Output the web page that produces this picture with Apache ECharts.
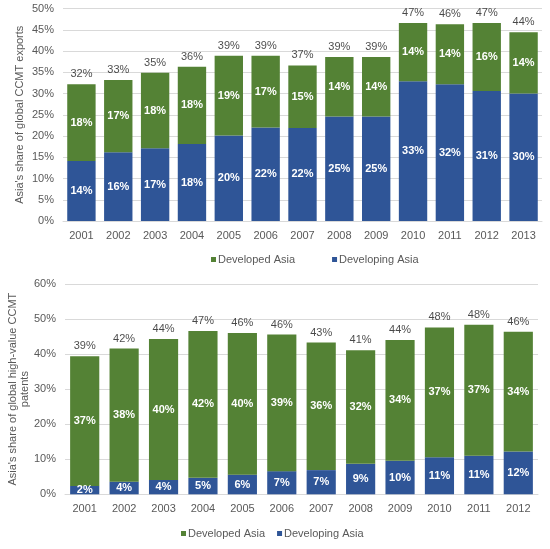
<!DOCTYPE html>
<html>
<head>
<meta charset="utf-8">
<script src="https://cdn.jsdelivr.net/npm/echarts@6/dist/echarts.min.js"></script>
<style>
html,body{margin:0;padding:0;background:#fff;}
#c{width:550px;height:549px;}
</style>
</head>
<body>
<div id="c"></div>
<script>
// Top chart: Asia's share of global CCMT exports (%)
const exportYears = ['2001','2002','2003','2004','2005','2006','2007','2008','2009','2010','2011','2012','2013'];
const exportDeveloping = [14.1,16.2,17.1,18.1,20.1,22.0,21.9,24.6,24.6,32.9,32.2,30.6,30.0];
const exportDeveloped  = [18.1,17.0,17.8,18.2,18.8,16.9,14.7,14.0,14.0,13.7,14.1,16.0,14.4];
const exportTicks = [0,5,10,15,20,25,30,35,40,45,50];

// Bottom chart: Asia's share of global high-value CCMT patents (%)
const patentYears = ['2001','2002','2003','2004','2005','2006','2007','2008','2009','2010','2011','2012'];
const patentDeveloping = [2.4,3.6,4.1,4.7,5.6,6.6,6.9,8.7,9.6,10.6,11.0,12.2];
const patentDeveloped  = [37.0,38.0,40.2,41.9,40.4,39.0,36.4,32.4,34.4,37.0,37.4,34.2];
const patentTicks = [0,10,20,30,40,50,60];

const exportTotal = exportDeveloping.map((v,i)=>+(v+exportDeveloped[i]).toFixed(1));
const patentTotal = patentDeveloping.map((v,i)=>+(v+patentDeveloped[i]).toFixed(1));

const GREEN = '#548235', BLUE = '#2F5597';
const FONT = '"Liberation Sans", Arial, sans-serif';
const pct = p => Math.round(p.value) + '%';

function yAx(idx, ticks, name, gap){
  return {
    type:'value', gridIndex:idx, min:ticks[0], max:ticks[ticks.length-1],
    interval: ticks[1]-ticks[0],
    axisLine:{show:false}, axisTick:{show:false},
    axisLabel:{formatter:'{value}%', color:'#595959', fontSize:11, fontFamily:FONT, margin:9},
    splitLine:{lineStyle:{color:'#d9d9d9', width:1}},
    name:name, nameLocation:'middle', nameRotate:90, nameGap:gap, nameMoveOverlap:false,
    nameTextStyle:{color:'#595959', fontSize:11, fontFamily:FONT, lineHeight:12, align:'center'}
  };
}
function xAx(idx, cats){
  return {
    type:'category', gridIndex:idx, data:cats,
    axisLine:{lineStyle:{color:'#d9d9d9'}}, axisTick:{show:false},
    axisLabel:{color:'#595959', fontSize:11, fontFamily:FONT, margin:9}
  };
}
function barSeries(name, idx, data, color, stack, gap){
  return {
    name:name, type:'bar', stack:stack, xAxisIndex:idx, yAxisIndex:idx,
    data:data, barCategoryGap:gap,
    itemStyle:{color:color},
    label:{show:true, position:'inside', formatter:pct, color:'#fff', fontWeight:'bold', fontSize:11, fontFamily:FONT},
    emphasis:{disabled:true}, animation:false
  };
}
function totalSeries(idx, data){
  return {
    name:'Total', type:'scatter', xAxisIndex:idx, yAxisIndex:idx, data:data,
    symbolSize:1, itemStyle:{color:'rgba(0,0,0,0)'},
    label:{show:true, position:'top', distance:4, formatter:pct, color:'#1a1a1a', fontSize:11, fontFamily:FONT},
    emphasis:{disabled:true}, animation:false, z:5
  };
}
const legendText = {color:'#595959', fontSize:11, fontFamily:FONT, padding:[0,0,0,-3]};

const chart = echarts.init(document.getElementById('c'), null, {renderer:'canvas'});
chart.setOption({
  animation:false,
  textStyle:{fontFamily:FONT},
  grid:[
    {left:63, right:8, top:8.5, height:212.5, outerBoundsMode:'none', containLabel:false},
    {left:65, right:12, top:284, height:210.3, outerBoundsMode:'none', containLabel:false}
  ],
  xAxis:[xAx(0, exportYears), xAx(1, patentYears)],
  yAxis:[
    yAx(0, exportTicks, "Asia's share of global CCMT exports", 37),
    yAx(1, patentTicks, "Asia's share of global high-value CCMT\npatents", 34)
  ],
  legend:[
    {data:['Developed Asia','Developing Asia'], left:211, top:254, padding:0, itemWidth:5, itemHeight:5, itemGap:37,
     icon:'rect', textStyle:legendText, selectedMode:false},
    {data:['Developed Asia','Developing Asia'], left:181, top:528, padding:0, itemWidth:5, itemHeight:5, itemGap:12,
     icon:'rect', textStyle:legendText, selectedMode:false}
  ],
  series:[
    barSeries('Developing Asia', 0, exportDeveloping, BLUE, 'a', '23%'),
    barSeries('Developed Asia', 0, exportDeveloped, GREEN, 'a', '23%'),
    totalSeries(0, exportTotal),
    barSeries('Developing Asia', 1, patentDeveloping, BLUE, 'b', '26%'),
    barSeries('Developed Asia', 1, patentDeveloped, GREEN, 'b', '26%'),
    totalSeries(1, patentTotal)
  ]
});
</script>
</body>
</html>
